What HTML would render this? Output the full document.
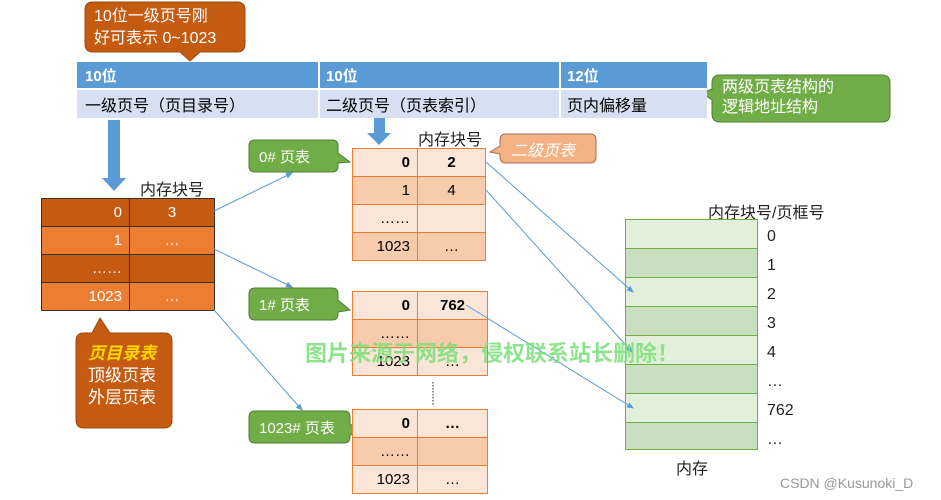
<!DOCTYPE html>
<html><head><meta charset="utf-8"><style>
body{margin:0;width:941px;height:500px;background:#fff;position:relative;overflow:hidden;font-family:"Liberation Sans","Noto Sans CJK SC",sans-serif;}
.a{position:absolute;}
.t{position:absolute;font-size:15px;color:#222;}
table{border-collapse:collapse;position:absolute;}
td{padding:0;font-size:15px;}
</style></head><body>
<svg class="a" style="left:0;top:0" width="941" height="500">
<path d="M93,2 H237 Q245,2 245,10 V44 Q245,52 237,52 H200 L190,61 L180,52 H93 Q85,52 85,44 V10 Q85,2 93,2z" fill="#c55a11" stroke="#9c4a10"/>
<path d="M720,75 H882 Q890,75 890,83 V114 Q890,122 882,122 H720 Q712,122 712,114 V100 L702,93 L712,89 V83 Q712,75 720,75z" fill="#70ad47" stroke="#507e32"/>
<path d="M84,333 H92 L100,318 L110,333 H164 Q172,333 172,341 V420 Q172,428 164,428 H84 Q76,428 76,420 V341 Q76,333 84,333z" fill="#c55a11" stroke="#9c4a10"/>
<path d="M255,140 H332 Q338,140 338,146 V153 L350,162 L338,163 V166 Q338,172 332,172 H255 Q249,172 249,166 V146 Q249,140 255,140z" fill="#70ad47" stroke="#507e32"/>
<path d="M255,288 H332 Q338,288 338,294 V300 L350,310 L338,312 V314 Q338,320 332,320 H255 Q249,320 249,314 V294 Q249,288 255,288z" fill="#70ad47" stroke="#507e32"/>
<path d="M255,411 H344 Q350,411 350,417 V424 L362,433 L350,435 V437 Q350,443 344,443 H255 Q249,443 249,437 V417 Q249,411 255,411z" fill="#70ad47" stroke="#507e32"/>
<path d="M506,134 H590 Q596,134 596,140 V157 Q596,163 590,163 H506 Q500,163 500,157 V154 L490,152 L500,146 V140 Q500,134 506,134z" fill="#f4b183" stroke="#a0705a"/>
<path d="M108,120 H120 V178 H126 L114,191 L102,178 H108z" fill="#5b9bd5"/>
<path d="M374,113 H385 V133 H391 L379,145 L367,133 H374z" fill="#5b9bd5"/>
<line x1="433" y1="382" x2="433" y2="405" stroke="#222" stroke-dasharray="1.5,1.5"/>
</svg>
<div class="t" style="left:94px;top:6px;color:#fff;font-size:16px;line-height:22px">10位一级页号刚<br>好可表示 0~1023</div>
<div class="t" style="left:722px;top:78px;color:#fff;font-size:16px;line-height:20px">两级页表结构的<br>逻辑地址结构</div>
<div class="t" style="left:88px;top:343px;color:#fff;font-size:17px;line-height:22px"><i style="color:#ffd700;font-weight:bold">页目录表</i><br>顶级页表<br>外层页表</div>
<div class="t" style="left:259px;top:146px;color:#fff">0# 页表</div>
<div class="t" style="left:259px;top:294px;color:#fff">1# 页表</div>
<div class="t" style="left:259px;top:417px;color:#fff">1023# 页表</div>
<div class="t" style="left:511px;top:137px;color:#fff;font-style:italic;font-size:16px">二级页表</div>
<table style="left:77px;top:62px;width:630px">
<tr style="background:#5b9bd5;color:#fff;font-weight:bold;height:27px"><td style="width:233px;padding-left:8px;color:#fff">10位</td><td style="width:233px;padding-left:6px;color:#fff;border-left:2px solid #fff">10位</td><td style="padding-left:6px;color:#fff;border-left:2px solid #fff">12位</td></tr>
<tr style="background:#d6e0f0;height:29px;border-top:2px solid #fff"><td style="padding-left:8px;font-size:16px">一级页号（页目录号）</td><td style="padding-left:6px;border-left:2px solid #fff;font-size:16px">二级页号（页表索引）</td><td style="padding-left:6px;border-left:2px solid #fff;font-size:16px">页内偏移量</td></tr>
</table>
<div class="t" style="left:140px;top:176px;font-size:16px">内存块号</div>
<div class="t" style="left:418px;top:126px;font-size:16px">内存块号</div>
<div class="t" style="left:708px;top:199px;font-size:16px">内存块号/页框号</div>
<div class="t" style="left:676px;top:455px;font-size:16px">内存</div>
<table style="left:41px;top:198px;width:174px;color:#fff;border:1px solid #333">
<tr style="height:28px;background:#c55a11"><td style="width:80px;text-align:right;padding-right:7px;border:1px solid #333;color:#fff">0</td><td style="text-align:center;border:1px solid #333;color:#fff">3</td></tr>
<tr style="height:28px;background:#ed7d31"><td style="text-align:right;padding-right:7px;border:1px solid #333;color:#fff">1</td><td style="text-align:center;border:1px solid #333;color:#fff">…</td></tr>
<tr style="height:28px;background:#c55a11"><td style="text-align:right;padding-right:7px;border:1px solid #333;color:#fff">……</td><td style="border:1px solid #333"></td></tr>
<tr style="height:28px;background:#ed7d31"><td style="text-align:right;padding-right:7px;border:1px solid #333;color:#fff">1023</td><td style="text-align:center;border:1px solid #333;color:#fff">…</td></tr>
</table>
<table style="left:352px;top:148px;width:134px;border:1px solid #ed7d31">
<tr style="height:28px;background:#fbe5d6"><td style="width:57px;text-align:right;padding-right:7px;border:1px solid #ed7d31;font-weight:bold">0</td><td style="text-align:center;border:1px solid #ed7d31;font-weight:bold">2</td></tr>
<tr style="height:28px;background:#f8cbad"><td style="text-align:right;padding-right:7px;border:1px solid #ed7d31">1</td><td style="text-align:center;border:1px solid #ed7d31">4</td></tr>
<tr style="height:28px;background:#fbe5d6"><td style="text-align:right;padding-right:7px;border:1px solid #ed7d31">……</td><td style="border:1px solid #ed7d31"></td></tr>
<tr style="height:28px;background:#f8cbad"><td style="text-align:right;padding-right:7px;border:1px solid #ed7d31">1023</td><td style="text-align:center;border:1px solid #ed7d31">…</td></tr>
</table>
<table style="left:352px;top:291px;width:136px;border:1px solid #ed7d31">
<tr style="height:28px;background:#fbe5d6"><td style="width:57px;text-align:right;padding-right:7px;border:1px solid #ed7d31;font-weight:bold">0</td><td style="text-align:center;border:1px solid #ed7d31;font-weight:bold">762</td></tr>
<tr style="height:28px;background:#f8cbad"><td style="text-align:right;padding-right:7px;border:1px solid #ed7d31">……</td><td style="border:1px solid #ed7d31"></td></tr>
<tr style="height:28px;background:#fbe5d6"><td style="text-align:right;padding-right:7px;border:1px solid #ed7d31">1023</td><td style="text-align:center;border:1px solid #ed7d31">…</td></tr>
</table>
<table style="left:352px;top:409px;width:136px;border:1px solid #ed7d31">
<tr style="height:28px;background:#fbe5d6"><td style="width:57px;text-align:right;padding-right:7px;border:1px solid #ed7d31;font-weight:bold">0</td><td style="text-align:center;border:1px solid #ed7d31;font-weight:bold">…</td></tr>
<tr style="height:28px;background:#f8cbad"><td style="text-align:right;padding-right:7px;border:1px solid #ed7d31">……</td><td style="border:1px solid #ed7d31"></td></tr>
<tr style="height:28px;background:#fbe5d6"><td style="text-align:right;padding-right:7px;border:1px solid #ed7d31">1023</td><td style="text-align:center;border:1px solid #ed7d31">…</td></tr>
</table>
<div class="a" style="left:625px;top:219px;width:133px;height:231px;border:1px solid #70ad47;box-sizing:border-box;background:repeating-linear-gradient(#e2efda 0 28px,#70ad47 28px 29px,#c9dfc0 29px 57px,#70ad47 57px 58px)"></div>
<div class="t" style="left:767px;top:222px;line-height:29px;font-size:16px">0<br>1<br>2<br>3<br>4<br>…<br>762<br>…</div>
<svg class="a" style="left:0;top:0" width="941" height="500">
<defs><marker id="m" markerWidth="8" markerHeight="8" refX="6" refY="3" orient="auto"><path d="M0,0 L7,3 L0,6 z" fill="#5b9bd5"/></marker></defs>
<g stroke="#5b9bd5" stroke-width="1" fill="none" marker-end="url(#m)">
<line x1="214" y1="211" x2="292" y2="173"/>
<line x1="214" y1="249" x2="292" y2="287"/>
<line x1="214" y1="310" x2="302" y2="410"/>
<line x1="486" y1="162" x2="633" y2="292"/>
<line x1="486" y1="190" x2="632" y2="352"/>
<line x1="466" y1="305" x2="633" y2="408"/>
</g>
</svg>
<div class="t" style="left:305px;top:336px;color:#7be07b;font-size:22px;font-weight:bold;opacity:.85">图片来源于网络，侵权联系站长删除！</div>
<div class="t" style="left:780px;top:475px;color:#999;font-size:14px">CSDN @Kusunoki_D</div>
</body></html>
